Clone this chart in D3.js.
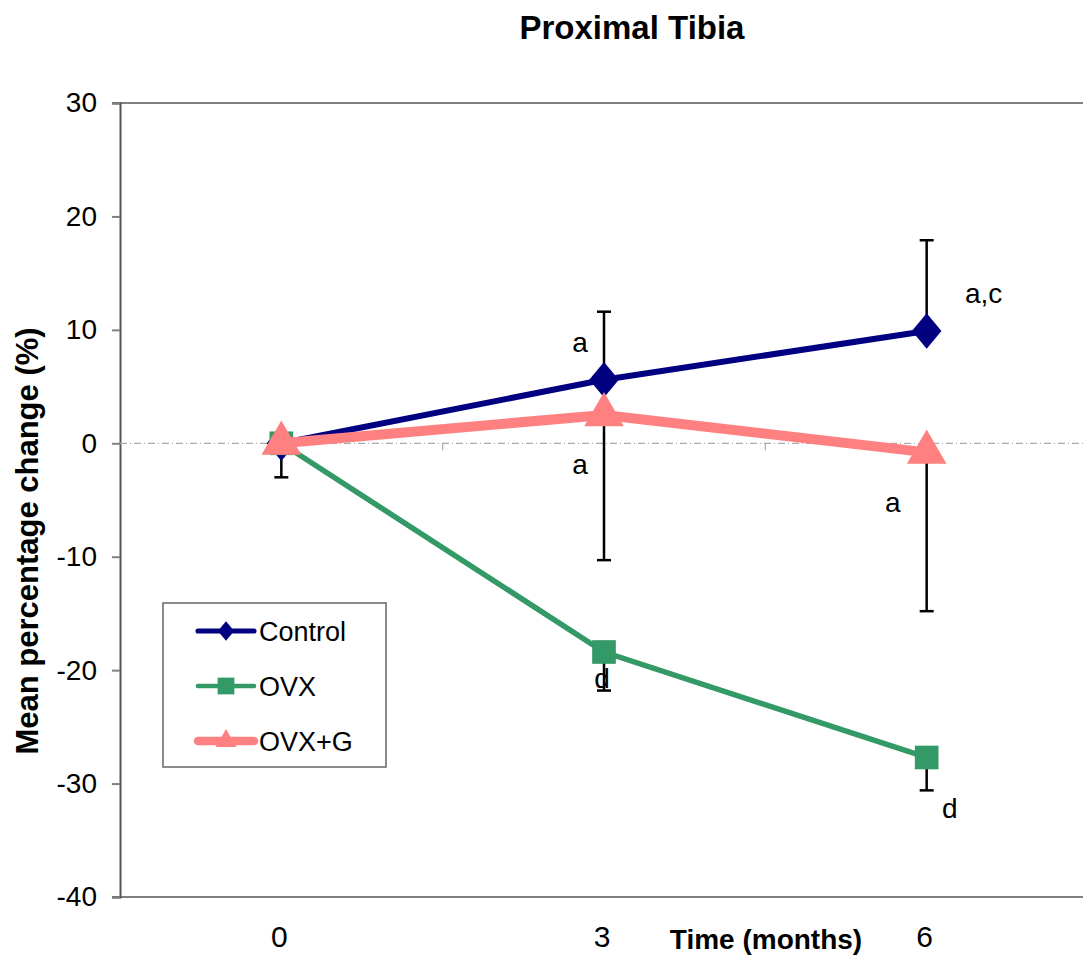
<!DOCTYPE html>
<html>
<head>
<meta charset="utf-8">
<script src="https://cdn.jsdelivr.net/npm/d3@7"></script>
<style>
  body { margin: 0; background: #fff; }
  svg { display: block; }
  text { font-family: "Liberation Sans", Arial, sans-serif; }
</style>
</head>
<body>
<div id="chart"></div>
<script>
// data
const months = ["0", "3", "6"];
const control = [0, 5.6, 9.9];
const ovx = [0, -18.4, -27.7];
const ovxG = [0, 2.5, -0.8];
// one-sided error bar ends
const controlErrHigh = [null, 11.6, 17.9];
const ovxErrLow = [null, -21.8, -30.6];
const ovxGErrLow = [-3.0, -10.3, -14.8];
const yTicks = [30, 20, 10, 0, -10, -20, -30, -40];

const W = 1083, H = 959;
const margin = {left: 120, top: 103, right: -5, bottom: 62};
const width = W - margin.left - margin.right;
const height = H - margin.top - margin.bottom;

const svg = d3.select("#chart").append("svg")
  .attr("width", W).attr("height", H);
const g = svg.append("g")
  .attr("transform", "translate(" + margin.left + "," + margin.top + ")");

const x = d3.scaleBand().domain(months).range([0, width]);
const xc = m => x(m) + x.bandwidth() / 2;
const y = d3.scaleLinear().domain([-40, 30]).range([height, 0]);

// title
svg.append("text").attr("x", 632).attr("y", 39)
  .attr("text-anchor", "middle").attr("font-size", 33).attr("font-weight", "bold")
  .text("Proximal Tibia");

// plot frame (top + bottom)
g.append("line").attr("x1", -8).attr("x2", width).attr("y1", 0).attr("y2", 0)
  .attr("stroke", "#808080").attr("stroke-width", 2);
g.append("line").attr("x1", -8).attr("x2", width).attr("y1", height).attr("y2", height)
  .attr("stroke", "#808080").attr("stroke-width", 2);

// y axis
const yAxis = g.append("g")
  .call(d3.axisLeft(y).tickValues(yTicks).tickSize(8).tickPadding(15)
    .tickFormat(d => String(d)));
yAxis.select(".domain").attr("stroke", "#555").attr("stroke-width", 2);
yAxis.selectAll(".tick line").attr("stroke", "#808080").attr("stroke-width", 2);
yAxis.selectAll(".tick text").attr("font-size", 28).attr("fill", "#000")
  .attr("font-family", "'Liberation Sans', Arial, sans-serif");

// zero line with category ticks
g.append("line").attr("x1", 0).attr("x2", width).attr("y1", y(0)).attr("y2", y(0))
  .attr("stroke", "#aaa").attr("stroke-width", 1.2).attr("stroke-dasharray", "7,3,1,3");
g.selectAll(".cattick").data(months.slice(1)).enter().append("line")
  .attr("x1", d => x(d)).attr("x2", d => x(d))
  .attr("y1", y(0)).attr("y2", y(0) + 7)
  .attr("stroke", "#aaa").attr("stroke-width", 1.2);

// x tick labels
g.selectAll(".xlab").data(months).enter().append("text")
  .attr("x", d => xc(d) - 2).attr("y", height + 50)
  .attr("text-anchor", "middle").attr("font-size", 30)
  .text(d => d);

// axis titles
svg.append("text").attr("x", 766).attr("y", 949)
  .attr("text-anchor", "middle").attr("font-size", 28).attr("font-weight", "bold")
  .text("Time (months)");
svg.append("text")
  .attr("transform", "translate(38,541) rotate(-90)")
  .attr("text-anchor", "middle").attr("font-size", 31).attr("font-weight", "bold")
  .text("Mean percentage change (%)");

// error bars
function errBars(vals, ends) {
  const d = months.map((m, i) => ({m: m, v: vals[i], e: ends[i]})).filter(d => d.e !== null);
  const eg = g.append("g");
  eg.selectAll("line.v").data(d).enter().append("line")
    .attr("x1", d => xc(d.m)).attr("x2", d => xc(d.m))
    .attr("y1", d => y(d.v)).attr("y2", d => y(d.e))
    .attr("stroke", "#000").attr("stroke-width", 2.5);
  eg.selectAll("line.c").data(d).enter().append("line")
    .attr("x1", d => xc(d.m) - 7).attr("x2", d => xc(d.m) + 7)
    .attr("y1", d => y(d.e)).attr("y2", d => y(d.e))
    .attr("stroke", "#000").attr("stroke-width", 2.5);
}
errBars(control, controlErrHigh);
errBars(ovx, ovxErrLow);
errBars(ovxG, ovxGErrLow);

const series = [
  {name: "Control", vals: control, color: "#000080", lw: 6, sym: d3.symbolDiamond, size: 360, sx: 1.45, lsize: 110},
  {name: "OVX", vals: ovx, color: "#339966", lw: 5.5, sym: d3.symbolSquare, size: 560, sx: 1, lsize: 280},
  {name: "OVX+G", vals: ovxG, color: "#ff8080", lw: 10, sym: d3.symbolTriangle, size: 680, sx: 1, lsize: 190}
];

const line = d3.line().x(d => xc(d.m)).y(d => y(d.v));
series.forEach(s => {
  const pts = months.map((m, i) => ({m: m, v: s.vals[i]}));
  g.append("path").datum(pts)
    .attr("fill", "none").attr("stroke", s.color).attr("stroke-width", s.lw)
    .attr("d", line);
  g.selectAll(null).data(pts).enter().append("path")
    .attr("d", d3.symbol().type(s.sym).size(s.size))
    .attr("transform", d => "translate(" + xc(d.m) + "," + y(d.v) + ") scale(" + s.sx + ",1)")
    .attr("fill", s.color);
});

// significance letters (positioned at their baseline value)
const letters = [
  {m: "3", v: 8.05, dx: -24, t: "a"},
  {m: "3", v: -2.7, dx: -24, t: "a"},
  {m: "6", v: 12.4, dx: 57, t: "a,c"},
  {m: "6", v: -6.1, dx: -34, t: "a"},
  {m: "3", v: -21.6, dx: -2, t: "d"},
  {m: "6", v: -33.0, dx: 23, t: "d"}
];
g.selectAll(".let").data(letters).enter().append("text")
  .attr("x", d => xc(d.m) + d.dx).attr("y", d => y(d.v))
  .attr("text-anchor", "middle").attr("font-size", 28)
  .text(d => d.t);

// legend
const lg = svg.append("g").attr("transform", "translate(163,603)");
lg.append("rect").attr("width", 223).attr("height", 164)
  .attr("fill", "#fff").attr("stroke", "#666").attr("stroke-width", 1.5);
series.forEach((s, i) => {
  const ly = 28 + i * 55;
  lg.append("line").attr("x1", 35).attr("x2", 91).attr("y1", ly).attr("y2", ly)
    .attr("stroke", s.color).attr("stroke-width", s.lw * 0.85).attr("stroke-linecap", "round");
  lg.append("path")
    .attr("d", d3.symbol().type(s.sym).size(s.lsize))
    .attr("transform", "translate(63," + ly + ") scale(" + s.sx + ",1)")
    .attr("fill", s.color);
  lg.append("text").attr("x", 96).attr("y", ly + 10)
    .attr("font-size", 27).text(s.name);
});
</script>
</body>
</html>
